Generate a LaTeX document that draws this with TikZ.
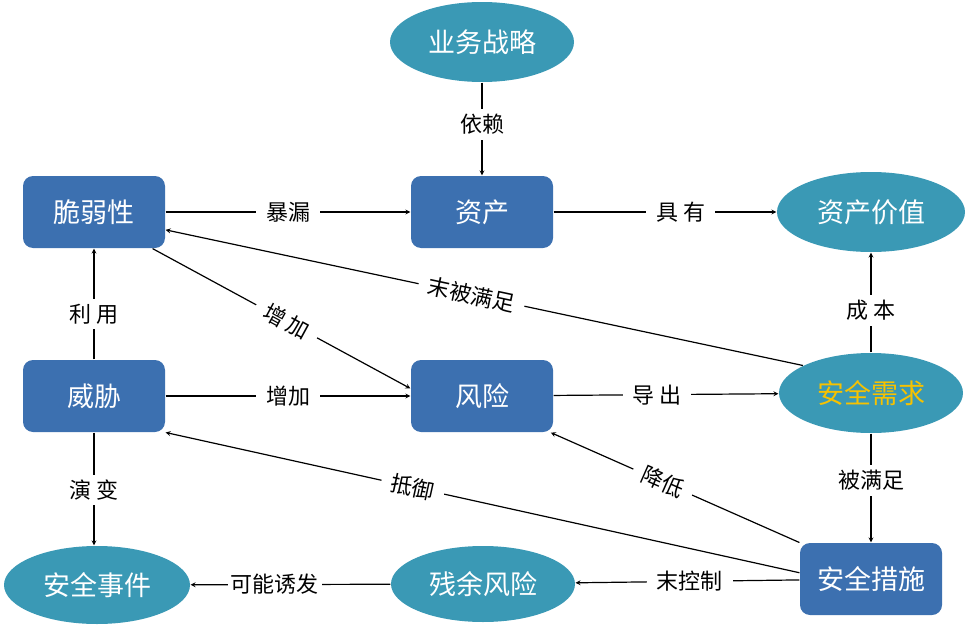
\documentclass[tikz,border=0pt]{standalone}
\usepackage{fontspec}
\setmainfont{Noto Sans CJK SC}
\usepackage{tikz}
\usetikzlibrary{shapes.geometric}

\definecolor{boxblue}{RGB}{60,112,176}
\definecolor{elliteal}{RGB}{58,153,181}
\definecolor{needgold}{RGB}{247,194,0}

\begin{document}
\begin{tikzpicture}[x=1pt,y=-1pt,>=stealth,line width=1.2pt]
\tikzstyle{box}=[draw=none,fill=boxblue,rounded corners=10pt,minimum width=142pt,minimum height=72pt,text=white,font=\fontsize{27}{32}\selectfont];
\tikzstyle{elli}=[draw=none,fill=elliteal,ellipse,minimum width=184pt,minimum height=80pt,inner sep=0pt,text=white,font=\fontsize{27}{32}\selectfont];
\tikzstyle{lbl}=[fill=white,inner xsep=10pt,inner ysep=5pt,text=black,font=\fontsize{22}{26}\selectfont];
\useasboundingbox (0,0) rectangle (970,629);
% nodes
%   boxes
    \node[box] (vul) at (94,212) {脆弱性};
    \node[box] (asset) at (482,212) {资产};
    \node[box] (threat) at (94,396) {威胁};
    \node[box] (risk) at (482,396) {风险};
    \node[box] (measure) at (871,579) {安全措施};
%   ellipses
    \node[elli] (strat) at (482,42) {业务战略};
    \node[elli,minimum width=188pt] (value) at (871,212) {资产价值};
    \node[elli,text=needgold] (need) at (871,393) {安全需求};
    \node[elli,minimum width=186pt,minimum height=78pt] (event) at (97,585) {安全事件};
    \node[elli,minimum height=76pt] (resid) at (483,584) {残余风险};
% edges
    \draw[->] (strat) -- node[lbl,pos=0.45] {依赖} (asset);
    \draw[->] (vul) -- node[lbl] {暴漏} (asset);
    \draw[->] (asset) -- node[lbl,pos=0.57] {具 有} (value);
    \draw[->] (need.158) -- node[lbl,sloped,pos=0.52] {末被满足} (vul.-14);
    \draw[->] (vul.-32) -- node[lbl,sloped,pos=0.52] {增 加} (risk.174);
    \draw[->] (threat) -- node[lbl,pos=0.41] {利 用} (vul);
    \draw[->] (threat) -- node[lbl] {增加} (risk);
    \draw[->] (risk) -- node[lbl,pos=0.46] {导 出} (need);
    \draw[->] (need) -- node[lbl,pos=0.42] {成 本} (value);
    \draw[->] (need) -- node[lbl,pos=0.43] {被满足} (measure);
    \draw[->] (measure.153) -- node[lbl,sloped,pos=0.55] {降低} (risk.-28);
    \draw[->] (measure.175) -- node[lbl,sloped,pos=0.61] {抵御} (threat.-27);
    \draw[->] (measure) -- node[lbl,pos=0.49] {末控制} (resid);
    \draw[->] (resid) -- node[lbl,pos=0.58,inner xsep=3pt] {可能诱发} (event);
    \draw[->] (threat.south) -- node[lbl,pos=0.51] {演 变} (threat.south |- event.north);
\end{tikzpicture}
\end{document}
